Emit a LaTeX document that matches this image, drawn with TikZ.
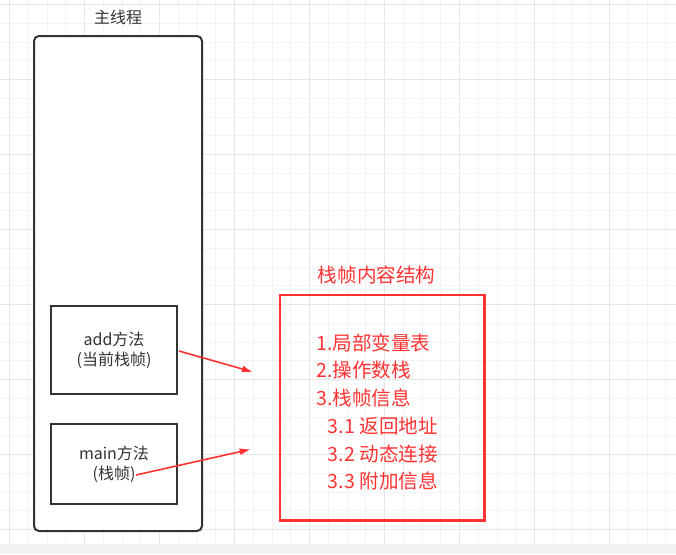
\documentclass[tikz,border=0pt]{standalone}
\usepackage{fontspec}
\setmainfont{Noto Sans CJK SC}
\usetikzlibrary{arrows.meta}
\definecolor{gridminor}{HTML}{F3F3F3}
\definecolor{gridmajor}{HTML}{E6E6E6}
\definecolor{bandgray}{HTML}{F1F1F1}
\definecolor{darkline}{HTML}{333333}
\definecolor{redline}{HTML}{FF3333}
\tikzset{
  framebox/.style={draw=darkline, line width=2pt, fill=white, inner sep=0pt, outer sep=0pt},
  blacktext/.style={text=darkline, font=\fontsize{16}{20}\selectfont, align=center},
  redtext/.style={text=redline, font=\fontsize{19.6}{27.7}\selectfont},
  redarrow/.style={draw=redline, line width=1.6pt, -{Latex[length=11pt,width=7pt]}}
}
\begin{document}
\begin{tikzpicture}[x=1pt,y=-1pt]
\useasboundingbox (0,0) rectangle (676,554);
\fill[white] (0,0) rectangle (676,554);
% grid
\foreach \i in {0,...,35} \draw[gridminor, line width=1pt] ({9.7+18.75*\i},0) -- ({9.7+18.75*\i},544);
\foreach \j in {0,...,28} \draw[gridminor, line width=1pt] (0,{4.7+18.75*\j}) -- (676,{4.7+18.75*\j});
\foreach \i in {0,...,8} \draw[gridmajor, line width=1pt] ({9.7+75*\i},0) -- ({9.7+75*\i},544);
\foreach \j in {0,...,7} \draw[gridmajor, line width=1pt] (0,{4.7+75*\j}) -- (676,{4.7+75*\j});
\fill[bandgray] (0,544) rectangle (676,554);
% main thread
\node[blacktext] (threadtitle) at (118,17.5) {主线程};
\node[framebox, rounded corners=5pt, minimum width=168pt, minimum height=495pt] (thread) at (118,283.5) {};
\node[framebox, blacktext, minimum width=126pt, minimum height=88.6pt] (addframe) at (114,350) {add方法\\(当前栈帧)};
\node[framebox, blacktext, minimum width=126pt, minimum height=80pt] (mainframe) at (114,464) {main方法\\(栈帧)};
% frame structure
\node[redtext] (structtitle) at (376.7,275) {栈帧内容结构};
\node[draw=redline, line width=2.6pt, inner sep=0pt, minimum width=204.3pt, minimum height=225.7pt] (structbox) at (382.15,407.85) {};
\node[redtext, align=left, anchor=west, inner sep=0pt] (structlist) at (316,412) {1.局部变量表\\2.操作数栈\\3.栈帧信息\\\hspace*{11.7pt}3.1 返回地址\\\hspace*{11.7pt}3.2 动态连接\\\hspace*{11.7pt}3.3 附加信息};
% arrows
\coordinate (addend) at (253,372);
\coordinate (mainstart) at (136,475);
\coordinate (mainend) at (250.7,449.3);
\draw[redarrow] (addframe.east) ++(2,1) -- (addend);
\draw[redarrow] (mainstart) -- (mainend);
\end{tikzpicture}
\end{document}
